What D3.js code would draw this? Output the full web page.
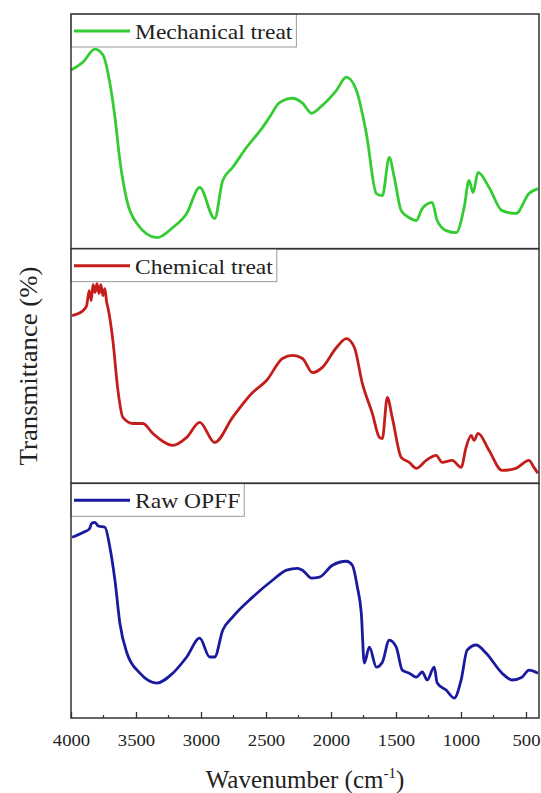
<!DOCTYPE html>
<html>
<head>
<meta charset="utf-8">
<script src="https://cdn.jsdelivr.net/npm/d3@7/dist/d3.min.js"></script>
<style>
  body { margin: 0; background: #fff; }
  text { font-family: "Liberation Serif", "DejaVu Serif", serif; fill: #222; }
</style>
</head>
<body>
<div id="chart"></div>
<script>
// series labels, top to bottom
const seriesNames = ["Mechanical treat", "Chemical treat", "Raw OPFF"];
const seriesColors = ["#33cc33", "#c41e1c", "#1a1a9e"];

// mechanical treat (green)
const mechWn = [4000, 3908, 3816, 3754, 3701, 3662, 3624, 3570, 3493, 3340, 3217, 3110, 3010, 2895, 2833, 2757,
  2649, 2526, 2473, 2396, 2296, 2219, 2150, 2066, 1958, 1882, 1805, 1728, 1651, 1605, 1552, 1513, 1460, 1398,
  1344, 1298, 1222, 1183, 1114, 1037, 976, 938, 907, 869, 784, 684, 577, 477, 408];
const mechT = [76.1, 79.5, 85.0, 82.5, 70.5, 56.0, 37.6, 20.5, 10.7, 4.7, 9.0, 15.0, 26.1, 12.8, 29.1, 34.6,
  43.2, 51.7, 56.0, 62.2, 64.1, 62.0, 57.7, 61.1, 67.5, 73.1, 67.5, 49.1, 23.5, 22.6, 38.9, 30.3, 16.2, 13.2,
  12.0, 17.1, 19.7, 12.0, 7.7, 6.8, 17.5, 29.1, 23.9, 32.5, 26.1, 16.2, 15.0, 23.5, 25.6];

// chemical treat (red)
const chemWn = [3992, 3908, 3880, 3860, 3845, 3830, 3815, 3800, 3785, 3770, 3755, 3740, 3725, 3716, 3678, 3639,
  3601, 3524, 3447, 3371, 3217, 3110, 3010, 2895, 2757, 2603, 2496, 2373, 2296, 2219, 2143, 2066, 1958, 1882,
  1820, 1759, 1682, 1628, 1605, 1567, 1529, 1460, 1398, 1344, 1268, 1191, 1145, 1068, 999, 961, 922, 899, 869,
  784, 684, 577, 477, 439, 408];
const chemT = [71.5, 73.6, 75.7, 82.1, 77.9, 84.7, 81.3, 85.1, 80.9, 84.7, 80.0, 83.0, 77.0, 74.9, 60.9, 39.6,
  28.1, 25.5, 25.5, 21.3, 16.2, 19.6, 26.0, 17.4, 28.1, 38.7, 43.8, 53.2, 54.5, 53.2, 47.2, 49.4, 57.9, 61.7,
  57.9, 42.6, 29.8, 19.6, 19.1, 36.6, 28.1, 11.1, 8.9, 6.4, 9.8, 11.9, 8.9, 9.8, 6.8, 15.3, 20.4, 18.3, 21.3,
  14.0, 5.5, 6.4, 9.8, 6.8, 4.3];

// raw OPFF (blue)
const rawWn = [3992, 3908, 3860, 3840, 3816, 3790, 3739, 3701, 3662, 3624, 3570, 3470, 3340, 3217, 3110, 3010,
  2933, 2895, 2833, 2757, 2603, 2450, 2342, 2258, 2219, 2150, 2089, 1989, 1882, 1836, 1797, 1767, 1744, 1705,
  1651, 1605, 1552, 1498, 1452, 1398, 1344, 1298, 1260, 1206, 1183, 1114, 1053, 999, 953, 884, 808, 684, 608,
  531, 477, 408];
const rawT = [77.0, 79.1, 80.5, 83.0, 83.4, 81.8, 81.3, 72.8, 58.7, 40.4, 27.7, 19.1, 14.9, 19.1, 26.0, 34.0,
  26.0, 26.0, 37.4, 43.0, 51.5, 58.7, 63.0, 63.8, 63.0, 59.6, 60.0, 65.1, 66.8, 65.1, 55.7, 44.7, 23.4, 30.2,
  21.7, 23.8, 33.2, 30.2, 20.4, 19.1, 17.4, 19.6, 16.2, 21.7, 14.9, 11.9, 8.5, 16.2, 28.9, 31.1, 27.7, 19.1, 16.2,
  17.4, 20.4, 19.1];

const xTicks = [4000, 3500, 3000, 2500, 2000, 1500, 1000, 500];
const xMinorTicks = [3750, 3250, 2750, 2250, 1750, 1250, 750];

const series = [
  { name: seriesNames[0], color: seriesColors[0], wn: mechWn, t: mechT },
  { name: seriesNames[1], color: seriesColors[1], wn: chemWn, t: chemT },
  { name: seriesNames[2], color: seriesColors[2], wn: rawWn, t: rawT }
];

const width = 541, height = 793;
const plotLeft = 71, plotRight = 539, plotTop = 14, plotBottom = 718;
const panelH = (plotBottom - plotTop) / 3;

const svg = d3.select("#chart").append("svg")
  .attr("width", width)
  .attr("height", height);

const x = d3.scaleLinear().domain([4000, 400]).range([plotLeft, plotRight]);

// widen text a little, the original type is stretched sideways
function stretch(sel, k) {
  sel.each(function () {
    const w = this.getComputedTextLength();
    d3.select(this).attr("textLength", w * k).attr("lengthAdjust", "spacingAndGlyphs");
  });
}

series.forEach((s, i) => {
  const top = plotTop + i * panelH;
  const y = d3.scaleLinear().domain([0, 100]).range([top + panelH, top]);

  const pts = s.wn.map((w, j) => [w, s.t[j]]);
  const line = d3.line()
    .x(d => x(d[0]))
    .y(d => y(d[1]))
    .curve(d3.curveMonotoneX);

  const g = svg.append("g");

  g.append("path")
    .datum(pts)
    .attr("d", line)
    .attr("fill", "none")
    .attr("stroke", s.color)
    .attr("stroke-width", 2.8)
    .attr("stroke-linejoin", "round");

  // legend box
  const leg = g.append("g");
  const txt = leg.append("text")
    .attr("x", 135)
    .attr("y", top + 25)
    .attr("font-size", 21)
    .text(s.name);
  stretch(txt, 1.12);
  const tw = txt.node().getComputedTextLength();
  leg.insert("rect", "text")
    .attr("x", plotLeft)
    .attr("y", top)
    .attr("width", 135 + tw + 4 - plotLeft)
    .attr("height", 33)
    .attr("fill", "#fff")
    .attr("stroke", "#999")
    .attr("stroke-width", 1);
  leg.append("line")
    .attr("x1", 74).attr("x2", 130)
    .attr("y1", top + 17).attr("y2", top + 17)
    .attr("stroke", s.color)
    .attr("stroke-width", 3);

  // panel frame
  g.append("rect")
    .attr("x", plotLeft)
    .attr("y", top)
    .attr("width", plotRight - plotLeft)
    .attr("height", panelH)
    .attr("fill", "none")
    .attr("stroke", "#333")
    .attr("stroke-width", 1.5);
});

// bottom axis, ticks pointing inward
const xAxis = d3.axisBottom(x)
  .tickValues(xTicks)
  .tickSize(-6)
  .tickPadding(16)
  .tickFormat(d3.format("d"));

const ax = svg.append("g")
  .attr("transform", `translate(0,${plotBottom})`)
  .call(xAxis);
ax.select(".domain").remove();
ax.selectAll(".tick line").attr("stroke", "#333").attr("stroke-width", 1.3);
ax.selectAll(".tick text")
  .attr("font-family", "Liberation Serif")
  .attr("font-size", 17)
  .attr("fill", "#222");
stretch(ax.selectAll(".tick text"), 1.1);

svg.append("g").selectAll("line")
  .data(xMinorTicks)
  .join("line")
  .attr("x1", d => x(d)).attr("x2", d => x(d))
  .attr("y1", plotBottom).attr("y2", plotBottom - 3)
  .attr("stroke", "#333")
  .attr("stroke-width", 1.2);

// axis titles
const xt = svg.append("text")
  .attr("x", 305)
  .attr("y", 788)
  .attr("text-anchor", "middle")
  .attr("font-size", 25);
xt.append("tspan").text("Wavenumber (cm");
xt.append("tspan").attr("font-size", 15).attr("dy", -10).text("-1");
xt.append("tspan").attr("dy", 10).text(")");

const yt = svg.append("text")
  .attr("transform", `translate(37,${plotTop + (plotBottom - plotTop) / 2}) rotate(-90)`)
  .attr("text-anchor", "middle")
  .attr("font-size", 25)
  .text("Transmittance (%)");
stretch(yt, 1.07);
</script>
</body>
</html>
